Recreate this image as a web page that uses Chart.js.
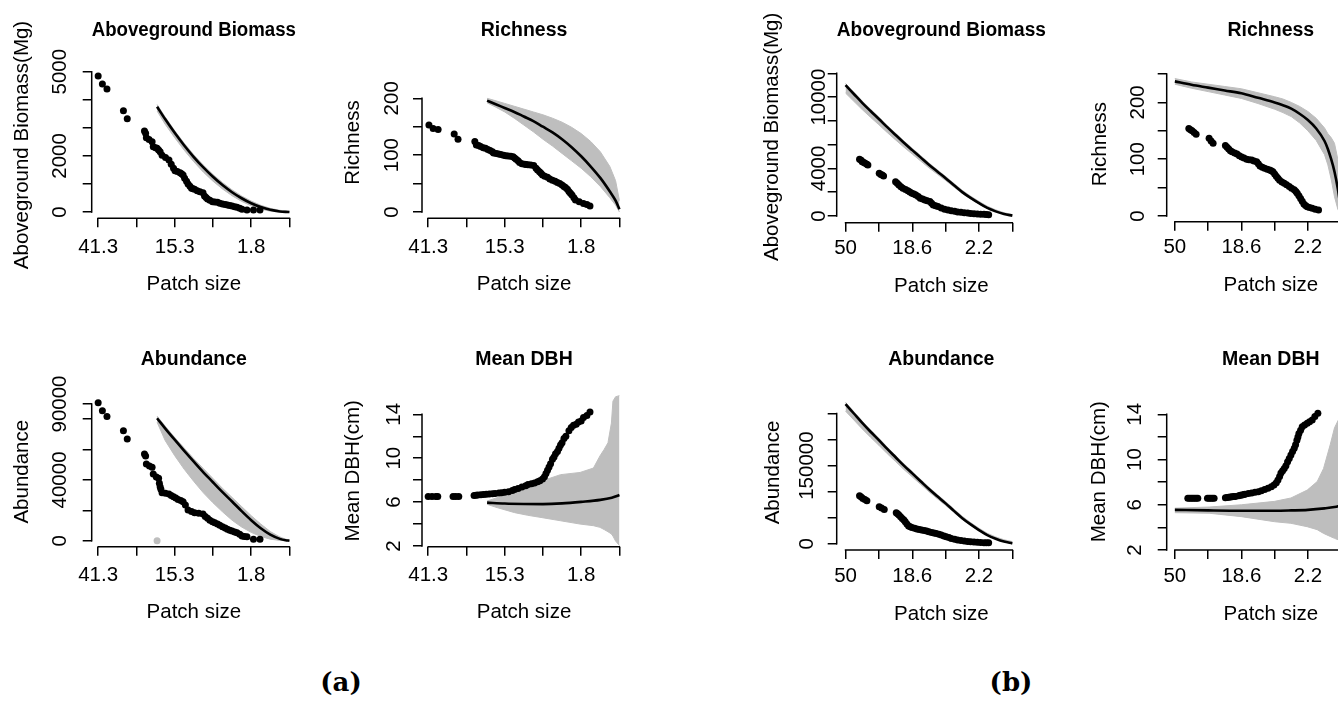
<!DOCTYPE html>
<html><head><meta charset="utf-8"><title>Patch size panels</title>
<script src="https://cdn.jsdelivr.net/npm/chart.js@4.4.1/dist/chart.umd.min.js"></script>
<style>
html,body{margin:0;padding:0;background:#fff;overflow:hidden;}
body{position:relative;width:1338px;height:702px;}
canvas{position:absolute;}
.tag{position:absolute;width:120px;text-align:center;font:bold 26px 'DejaVu Serif','Liberation Serif',serif;line-height:34px;color:#000;}
</style></head><body>
<div class="tag" style="left:281px;top:665px">(a)</div>
<div class="tag" style="left:951px;top:665px">(b)</div>
<script>
// ---------------- DATA ----------------
const xTicks = [0, 1, 2, 3, 4, 5];
const xLabelsA = ['41.3', '', '15.3', '', '1.8', ''];
const xLabelsB = ['50', '', '18.6', '', '2.2', ''];

const yTicksA1 = [0, 1000, 2000, 3000, 4000, 5000];
const yLabelsA1 = ['0', '', '2000', '', '', '5000'];
const yTicksA2 = [0, 50, 100, 150, 200];
const yLabelsA2 = ['0', '', '100', '', '200'];
const yTicksA3 = [0, 20000, 40000, 60000, 80000, 90000];
const yLabelsA3 = ['0', '', '40000', '', '', '90000'];
const yTicksA4 = [2, 4, 6, 8, 10, 12, 14];
const yLabelsA4 = ['2', '', '6', '', '10', '', '14'];
const yTicksB1 = [0, 2000, 4000, 6000, 8000, 10000, 12000];
const yLabelsB1 = ['0', '', '4000', '', '', '10000', ''];
const yTicksB2 = [0, 50, 100, 150, 200, 250];
const yLabelsB2 = ['0', '', '100', '', '200', ''];
const yTicksB3 = [0, 50000, 100000, 150000, 200000, 250000];
const yLabelsB3 = ['0', '', '', '150000', '', ''];
const yTicksB4 = [2, 4, 6, 8, 10, 12, 14];
const yLabelsB4 = ['2', '', '6', '', '10', '', '14'];

// (a) observed
const obsXA1 = [0,0.11,0.23,0.66,0.76,1.21,1.24,1.26,1.33,1.41,1.44,1.5,1.54,1.58,1.62,1.67,1.76,1.85,1.91,1.97,2.01,2.07,2.14,2.18,2.22,2.26,2.31,2.35,2.4,2.44,2.48,2.52,2.59,2.66,2.74,2.78,2.82,2.86,2.92,2.99,3.05,3.12,3.18,3.25,3.32,3.38,3.44,3.5,3.57,3.63,3.7,3.76,3.89,4.06,4.23];
const obsYA1 = [4846,4561,4382,3610,3325,2886,2803,2648,2580,2506,2328,2290,2268,2210,2150,2019,1940,1853,1700,1556,1473,1440,1401,1360,1318,1200,1100,998,920,843,825,808,760,720,689,570,520,463,420,368,356,344,315,285,268,249,232,214,190,166,130,95,71,71,71];
const obsXA2 = [0.02,0.13,0.26,0.68,0.78,1.22,1.26,1.32,1.37,1.44,1.5,1.56,1.62,1.68,1.71,1.78,1.84,1.9,1.97,2.03,2.09,2.16,2.22,2.26,2.3,2.35,2.39,2.45,2.52,2.56,2.61,2.68,2.76,2.82,2.86,2.91,2.95,2.99,3.05,3.12,3.18,3.25,3.32,3.38,3.44,3.5,3.55,3.59,3.64,3.68,3.72,3.76,3.81,3.85,3.95,4.06,4.15,4.23];
const obsYA2 = [153,147,145,137,128,124,118,117,115,113,112,110,108,106,104,103,102,101,100,99,98.5,98,97,95,93,90,87,85,84,83.5,83,82.5,82,77,74,71,68,65,63,61,58,56,54,52,50,47.5,45,43,40,36,33,30,25,21,18,15,13,10.5];
const obsXA3 = [0,0.11,0.23,0.66,0.76,1.21,1.24,1.26,1.34,1.41,1.44,1.52,1.58,1.6,1.62,1.64,1.67,1.76,1.85,1.91,1.97,2.03,2.09,2.16,2.22,2.28,2.35,2.44,2.52,2.63,2.74,2.8,2.86,2.92,2.99,3.05,3.12,3.18,3.25,3.32,3.38,3.44,3.5,3.57,3.63,3.7,3.76,3.82,3.89,4.06,4.23];
const obsYA3 = [90900,85600,81700,72400,67000,57100,55800,50500,49200,48300,43900,42000,41100,37800,35600,33800,31600,31200,30700,29800,29000,28100,27200,26500,25700,23500,20200,19300,18400,18000,17600,16000,14700,13500,12500,11800,11000,10100,9200,8300,7500,6900,6400,5800,5300,4200,3100,2800,2600,900,900];
const obsXA4 = [0,0.1,0.2,0.25,0.65,0.72,0.8,1.2,1.25,1.3,1.38,1.45,1.52,1.6,1.68,1.75,1.85,1.92,2.0,2.1,2.2,2.26,2.35,2.45,2.55,2.61,2.7,2.78,2.86,2.92,2.99,3.04,3.08,3.12,3.16,3.2,3.25,3.29,3.33,3.38,3.42,3.46,3.5,3.55,3.6,3.68,3.74,3.8,3.87,3.93,4.0,4.06,4.15,4.23];
const obsYA4 = [6.5,6.5,6.5,6.5,6.52,6.52,6.52,6.6,6.62,6.65,6.68,6.7,6.72,6.74,6.76,6.78,6.82,6.86,6.9,6.95,7.05,7.15,7.25,7.38,7.5,7.6,7.68,7.75,7.85,7.95,8.1,8.3,8.6,8.9,9.2,9.5,9.9,10.1,10.4,10.6,10.9,11.2,11.4,11.8,12.0,12.5,12.8,13.0,13.1,13.3,13.4,13.7,13.9,14.2];
const grayXA3 = [1.54];
const grayYA3 = [0];

// (a) null-model mean and band
const curveXA = [1.54,1.75,2,2.25,2.5,2.75,3,3.25,3.5,3.75,4,4.25,4.5,4.75,4.9,5];
const meanA1 = [3753,3311,2822,2371,1959,1587,1254,960,705,490,313,176,78,20,4,0];
const lowA1  = [3600,3130,2650,2200,1790,1420,1100,820,580,380,220,100,30,0,0,0];
const highA1 = [3830,3390,2900,2450,2040,1670,1340,1050,790,570,390,240,130,60,40,30];
const meanA2 = [196,190,183,176,168,160,150,140,128,114,98,80,60,36,20,5];
const highA2 = [200,196,191,186,181,176,171,165,158,149,138,124,106,80,55,20];
const lowA2  = [192,185,176,165,153,141,128,116,103,90,77,62,45,25,12,0];
const meanA3 = [80600,74000,66500,59200,52000,45000,38500,32000,25800,19500,13500,8200,4000,1200,300,0];
const lowA3  = [78000,66000,56000,47000,39000,31500,25000,19000,13500,9000,5500,2800,1000,200,0,0];
const highA3 = [82000,75500,68000,61000,54000,47500,41000,34500,28500,22500,16500,11000,6000,2500,1000,500];
const meanXA4 = [1.54,2,2.5,3,3.5,4,4.5,4.8,5];
const meanA4  = [5.95,5.87,5.83,5.82,5.88,6.02,6.2,6.4,6.65];
const bandXA4 = [1.54,1.8,2.26,2.6,2.95,3.46,3.97,4.32,4.49,4.6,4.7,4.79,4.83,4.9,5];
const highA4  = [6.1,6.4,6.86,7.4,7.9,8.5,8.7,9.1,10.2,10.8,11.4,13.2,15.2,15.6,15.7];
const lowA4   = [5.8,5.5,5.04,4.8,4.6,4.3,4.0,3.85,3.7,3.5,3.3,3.1,2.9,2.45,2.05];

// (b) observed
const obsXB1 = [0.42,0.47,0.5,0.55,0.59,0.64,0.67,1.01,1.06,1.1,1.14,1.5,1.55,1.6,1.66,1.72,1.8,1.87,1.93,1.99,2.05,2.11,2.18,2.24,2.31,2.38,2.45,2.53,2.58,2.63,2.7,2.77,2.87,2.97,3.07,3.17,3.27,3.36,3.46,3.56,3.66,3.75,3.85,3.95,4.05,4.15,4.22,4.29];
const obsYB1 = [4770,4680,4570,4500,4430,4350,4290,3590,3500,3440,3370,2890,2750,2610,2470,2330,2230,2130,2020,1910,1840,1770,1630,1490,1420,1350,1280,1210,1070,930,860,790,680,560,500,450,400,340,310,280,250,220,195,170,155,140,125,110];
const obsXB2 = [0.42,0.47,0.52,0.58,0.64,1.03,1.09,1.15,1.52,1.57,1.62,1.67,1.72,1.8,1.87,1.94,2.01,2.08,2.16,2.23,2.31,2.38,2.46,2.51,2.56,2.63,2.7,2.78,2.85,2.9,2.95,3.0,3.05,3.1,3.15,3.22,3.29,3.36,3.44,3.51,3.59,3.64,3.68,3.73,3.78,3.83,3.88,3.93,3.98,4.05,4.13,4.22,4.32];
const obsYB2 = [154,152,150,147,144,137,132,128,124,121,118,115,113,111,109,106,104,102,100,99,98.6,97,95.7,92,88,86,84,82.5,81,79.5,78,74,70,66.5,63,60,57.5,55,52,49,46,43,40,35.5,31,26,21,18.5,16.4,15,13.5,12,10.6];
const obsXB3 = [0.42,0.47,0.52,0.58,0.64,1.01,1.08,1.16,1.52,1.56,1.6,1.65,1.7,1.75,1.79,1.84,1.89,1.94,1.99,2.07,2.14,2.21,2.28,2.36,2.43,2.5,2.58,2.65,2.72,2.8,2.87,2.95,3.02,3.1,3.17,3.27,3.36,3.46,3.56,3.66,3.75,3.85,3.95,4.05,4.15,4.22,4.29];
const obsYB3 = [92100,89500,87000,84700,82500,71000,68500,65900,59500,57300,55000,51800,48600,45400,42200,38000,33900,32600,31300,29700,28100,27100,26200,25200,24300,23000,21700,20700,19800,18200,16600,15000,13400,11800,10200,8600,7000,6000,5100,4400,3800,3200,2600,2300,1900,1900,1900];
const obsXB4 = [0.39,0.44,0.49,0.54,0.59,0.64,0.69,0.98,1.03,1.08,1.13,1.18,1.52,1.57,1.62,1.67,1.72,1.77,1.82,1.92,1.97,2.02,2.07,2.11,2.21,2.31,2.41,2.51,2.6,2.7,2.8,2.9,2.98,3.05,3.1,3.15,3.19,3.24,3.29,3.34,3.39,3.44,3.49,3.54,3.59,3.63,3.67,3.7,3.73,3.78,3.83,3.9,3.98,4.05,4.13,4.21,4.3];
const obsYB4 = [6.57,6.57,6.57,6.57,6.57,6.57,6.57,6.57,6.57,6.57,6.57,6.57,6.62,6.64,6.66,6.68,6.7,6.72,6.74,6.8,6.84,6.87,6.9,6.93,7.0,7.05,7.1,7.15,7.25,7.35,7.45,7.6,7.75,7.95,8.2,8.5,8.8,9.0,9.2,9.45,9.8,10.1,10.4,10.7,11.0,11.3,11.7,12.0,12.3,12.6,12.9,13.05,13.2,13.35,13.5,13.8,14.1];

// (b) null-model mean and band
const curveXB = [0,0.25,0.5,0.75,1,1.25,1.5,1.75,2,2.25,2.5,2.75,3,3.25,3.5,3.75,4,4.25,4.5,4.75,5];
const meanB1 = [11000,10260,9520,8830,8160,7470,6810,6160,5540,4930,4310,3740,3180,2590,2010,1520,1080,680,390,165,30];
const lowB1  = [10340,9640,8950,8300,7670,7020,6400,5790,5210,4630,4050,3520,2990,2430,1890,1430,1010,640,360,150,20];
const highB1 = [11150,10410,9670,8980,8310,7620,6960,6310,5690,5080,4460,3890,3330,2740,2160,1670,1230,820,520,280,120];
const meanB3 = [268000,250000,232000,215000,198800,182000,166000,150000,135000,120000,105000,91000,77400,63000,49000,37000,26200,16500,9500,4000,640];
const lowB3  = [254600,237500,220400,204300,188900,172900,157700,142500,128300,114000,99800,86500,73500,59900,46600,35200,24900,15700,9000,3800,600];
const highB3 = [271500,253500,235500,218500,202300,185500,169500,153500,138500,123500,108500,94500,80900,66500,52500,40500,29700,20000,13000,7500,4100];
const curveXB2 = [0,0.5,1,1.5,2,2.5,3,3.25,3.5,3.75,4,4.25,4.5,4.6,4.7,4.8,4.9,5];
const meanB2 = [237,231,226,221,216,208,200,195,189,180,169,154,132,118,100,78,48,8];
const highB2 = [242,236,232,228,224,217,210,206,200,193,184,172,155,145,138,128,100,50];
const lowB2  = [232,225,219,213,207,198,188,182,175,164,150,133,108,90,65,34,12,0];
const meanXB4 = [0,1,2,3,3.5,4,4.5,4.8,5];
const meanB4  = [5.55,5.5,5.47,5.47,5.5,5.55,5.68,5.8,5.95];
const bandXB4 = [0,1.03,2.0,3.0,3.49,3.98,4.28,4.47,4.67,4.8,5];
const highB4  = [5.7,5.8,6.0,6.3,6.6,7.3,8.05,9.2,11.3,12.8,14];
const lowB4   = [5.3,5.25,4.95,4.5,4.36,4.06,3.8,3.47,3.2,3.03,2.8];

// ---------------- LAYOUT (page pixels) ----------------
const GEO = {
  a1:{cx:0,   cy:0,   ch:310, L:91.7,  R:300,  T:71.7,  B:218.3, xp:[98.3,293.3],  yv:[0,5000],   yp:[212,71.7],   titleY:30.5,  dTick:30.9, dTitle:69, dXTick:29, dXTitle:66},
  a2:{cx:330, cy:0,   ch:310, L:422,   R:630,  T:66.7,  B:218.3, xp:[428.3,623.3], yv:[0,200],    yp:[212,98.3],   titleY:30.5,  dTick:30,   dTitle:69, dXTick:29, dXTitle:66},
  a3:{cx:0,   cy:330, ch:300, L:91.7,  R:300,  T:396.7, B:546.7, xp:[98.3,293.3],  yv:[0,90000],  yp:[540.7,404],  titleY:359.5, dTick:31,   dTitle:69, dXTick:29, dXTitle:66},
  a4:{cx:330, cy:330, ch:300, L:422,   R:630,  T:394.9, B:546.7, xp:[428.3,623.3], yv:[2,14],     yp:[546,414.3],  titleY:359.5, dTick:28,   dTitle:69, dXTick:29, dXTitle:66},
  b1:{cx:680, cy:0,   ch:310, L:836.7, R:1050, T:51,    B:222.7, xp:[845.7,1015.7],yv:[0,12000],  yp:[216,73.3],   titleY:30.5,  dTick:17,   dTitle:64, dXTick:26, dXTitle:64},
  b2:{cx:1060,cy:0,   ch:310, L:1166.7,R:1379, T:66.7,  B:221.7, xp:[1175,1344.5], yv:[0,250],    yp:[216,74],     titleY:30.5,  dTick:28,   dTitle:66, dXTick:26, dXTitle:64},
  b3:{cx:680, cy:330, ch:300, L:836.7, R:1050, T:395,   B:550,   xp:[845.7,1015.7],yv:[0,250000], yp:[543.7,413.5],titleY:359.5, dTick:29,   dTitle:63, dXTick:26, dXTitle:64},
  b4:{cx:1060,cy:330, ch:300, L:1166.7,R:1379, T:393.4, B:550,   xp:[1175,1344.5], yv:[2,14],     yp:[550,414.3],  titleY:359.5, dTick:31,   dTitle:67, dXTick:26, dXTitle:64}
};

const FAMILY = "'Liberation Sans', Arial, Helvetica, sans-serif";
const TXT = 20.5, TTL = 19.5, LH = 1.2, TICK_LEN = 9, AXIS_W = 1.5, DOT_R = 3.5;
const GRAY = '#BEBEBE', INK = '#000000';

const PANELS = [
  {key:'a1', title:'Aboveground Biomass', ytitle:'Aboveground Biomass(Mg)', xl:xLabelsA, yt:yTicksA1, yl:yLabelsA1, ox:obsXA1, oy:obsYA1, mx:curveXA, my:meanA1, bx:curveXA, lo:lowA1, hi:highA1},
  {key:'a2', title:'Richness', ytitle:'Richness', xl:xLabelsA, yt:yTicksA2, yl:yLabelsA2, ox:obsXA2, oy:obsYA2, mx:curveXA, my:meanA2, bx:curveXA, lo:lowA2, hi:highA2},
  {key:'a3', title:'Abundance', ytitle:'Abundance', xl:xLabelsA, yt:yTicksA3, yl:yLabelsA3, ox:obsXA3, oy:obsYA3, mx:curveXA, my:meanA3, bx:curveXA, lo:lowA3, hi:highA3, gx:grayXA3, gy:grayYA3},
  {key:'a4', title:'Mean DBH', ytitle:'Mean DBH(cm)', xl:xLabelsA, yt:yTicksA4, yl:yLabelsA4, ox:obsXA4, oy:obsYA4, mx:meanXA4, my:meanA4, bx:bandXA4, lo:lowA4, hi:highA4},
  {key:'b1', title:'Aboveground Biomass', ytitle:'Aboveground Biomass(Mg)', xl:xLabelsB, yt:yTicksB1, yl:yLabelsB1, ox:obsXB1, oy:obsYB1, mx:curveXB, my:meanB1, bx:curveXB, lo:lowB1, hi:highB1},
  {key:'b2', title:'Richness', ytitle:'Richness', xl:xLabelsB, yt:yTicksB2, yl:yLabelsB2, ox:obsXB2, oy:obsYB2, mx:curveXB2, my:meanB2, bx:curveXB2, lo:lowB2, hi:highB2},
  {key:'b3', title:'Abundance', ytitle:'Abundance', xl:xLabelsB, yt:yTicksB3, yl:yLabelsB3, ox:obsXB3, oy:obsYB3, mx:curveXB, my:meanB3, bx:curveXB, lo:lowB3, hi:highB3},
  {key:'b4', title:'Mean DBH', ytitle:'Mean DBH(cm)', xl:xLabelsB, yt:yTicksB4, yl:yLabelsB4, ox:obsXB4, oy:obsYB4, mx:meanXB4, my:meanB4, bx:bandXB4, lo:lowB4, hi:highB4}
];

// ---------------- RENDER ----------------
Chart.defaults.font.family = FAMILY;
Chart.defaults.color = INK;

const pts = (xs, ys) => xs.map((x, i) => ({x: x, y: ys[i]}));
const lin = (p0, v0, p1, v1, p) => v0 + (p - p0) * (v1 - v0) / (p1 - p0);
const mctx = document.createElement('canvas').getContext('2d');
mctx.font = TXT + 'px ' + FAMILY;

// R-style axis lines: from first to last tick only
const rAxis = {
  id: 'rAxis',
  afterDraw(chart) {
    const {ctx, chartArea} = chart;
    const sx = chart.scales.x, sy = chart.scales.y;
    const xs = sx.ticks.map(t => sx.getPixelForValue(t.value));
    const ys = sy.ticks.map(t => sy.getPixelForValue(t.value));
    ctx.save();
    ctx.strokeStyle = INK; ctx.lineWidth = AXIS_W; ctx.lineCap = 'square';
    ctx.beginPath();
    ctx.moveTo(Math.min(...xs), chartArea.bottom); ctx.lineTo(Math.max(...xs), chartArea.bottom);
    ctx.moveTo(chartArea.left, Math.min(...ys)); ctx.lineTo(chartArea.left, Math.max(...ys));
    ctx.stroke();
    ctx.restore();
  }
};

PANELS.forEach(p => {
  const g = GEO[p.key];
  const cw = g.R - g.cx;
  const cv = document.createElement('canvas');
  cv.width = cw; cv.height = g.ch;
  cv.style.left = g.cx + 'px'; cv.style.top = g.cy + 'px';
  cv.style.width = cw + 'px'; cv.style.height = g.ch + 'px';
  document.body.appendChild(cv);

  const xmin = lin(g.xp[0], 0, g.xp[1], 5, g.L);
  const xmax = lin(g.xp[0], 0, g.xp[1], 5, g.R);
  const ymin = lin(g.yp[0], g.yv[0], g.yp[1], g.yv[1], g.B);
  const ymax = lin(g.yp[0], g.yv[0], g.yp[1], g.yv[1], g.T);

  const lhT = TXT * LH, lhH = TTL * LH;
  const widest = Math.max(...p.yl.map(s => mctx.measureText(s).width));
  const yPad = g.dTick - TICK_LEN - widest / 2;
  const yTitlePad = (g.L - g.dTitle) - g.cx - lhT / 2;
  const xPad = g.dXTick - TICK_LEN - lhT / 2;
  const xTitlePad = (g.cy + g.ch - g.B) - g.dXTitle - lhT / 2;
  const tPadTop = g.titleY - g.cy - lhH / 2;
  const tPadBot = g.T - g.cy - tPadTop - lhH;

  const datasets = [
    {data: pts(p.ox, p.oy), showLine: false, pointRadius: DOT_R, pointBackgroundColor: INK, pointBorderWidth: 0, order: 0, clip: false},
    {data: pts(p.mx, p.my), showLine: true, borderColor: INK, borderWidth: 2.6, pointRadius: 0, cubicInterpolationMode: 'monotone', fill: false, order: 1, clip: false},
    {data: pts(p.bx, p.hi), showLine: true, borderColor: GRAY, borderWidth: 1, backgroundColor: GRAY, pointRadius: 0, fill: '+1', order: 3, clip: false},
    {data: pts(p.bx, p.lo), showLine: true, borderColor: GRAY, borderWidth: 1, pointRadius: 0, fill: false, order: 4, clip: false}
  ];
  if (p.gx) {
    datasets.push({data: pts(p.gx, p.gy), showLine: false, pointRadius: DOT_R, pointBackgroundColor: GRAY, pointBorderWidth: 0, order: 2, clip: false});
  }

  new Chart(cv, {
    type: 'line',
    data: {datasets},
    plugins: [rAxis],
    options: {
      responsive: false, animation: false, devicePixelRatio: 1, events: [],
      layout: {padding: 0},
      plugins: {
        legend: {display: false}, tooltip: {enabled: false},
        title: {display: true, text: p.title, fullSize: false, color: INK,
                font: {size: TTL, weight: 'bold', family: FAMILY, lineHeight: LH},
                padding: {top: tPadTop, bottom: tPadBot}}
      },
      scales: {
        x: {
          type: 'linear', position: 'bottom', min: xmin, max: xmax,
          afterBuildTicks: s => { s.ticks = xTicks.map(v => ({value: v})); },
          afterFit: s => { s.height = g.cy + g.ch - g.B; },
          grid: {display: true, drawOnChartArea: false, drawTicks: true, tickLength: TICK_LEN, color: INK, lineWidth: AXIS_W},
          border: {display: false},
          ticks: {autoSkip: false, minRotation: 0, maxRotation: 0, padding: xPad, color: INK,
                  font: {size: TXT, lineHeight: LH}, callback: (v, i) => p.xl[i]},
          title: {display: true, text: 'Patch size', color: INK, font: {size: TXT, lineHeight: LH},
                  padding: {top: 0, bottom: xTitlePad}}
        },
        y: {
          type: 'linear', position: 'left', min: ymin, max: ymax,
          afterBuildTicks: s => { s.ticks = p.yt.map(v => ({value: v})); },
          afterFit: s => { s.width = g.L - g.cx; },
          grid: {display: true, drawOnChartArea: false, drawTicks: true, tickLength: TICK_LEN, color: INK, lineWidth: AXIS_W},
          border: {display: false},
          ticks: {autoSkip: false, minRotation: 90, maxRotation: 90, crossAlign: 'center', padding: yPad, color: INK,
                  font: {size: TXT, lineHeight: LH}, callback: (v, i) => p.yl[i]},
          title: {display: true, text: p.ytitle, color: INK, font: {size: TXT, lineHeight: LH},
                  padding: {top: yTitlePad, bottom: 0}}
        }
      }
    }
  });
});
</script></body></html>
